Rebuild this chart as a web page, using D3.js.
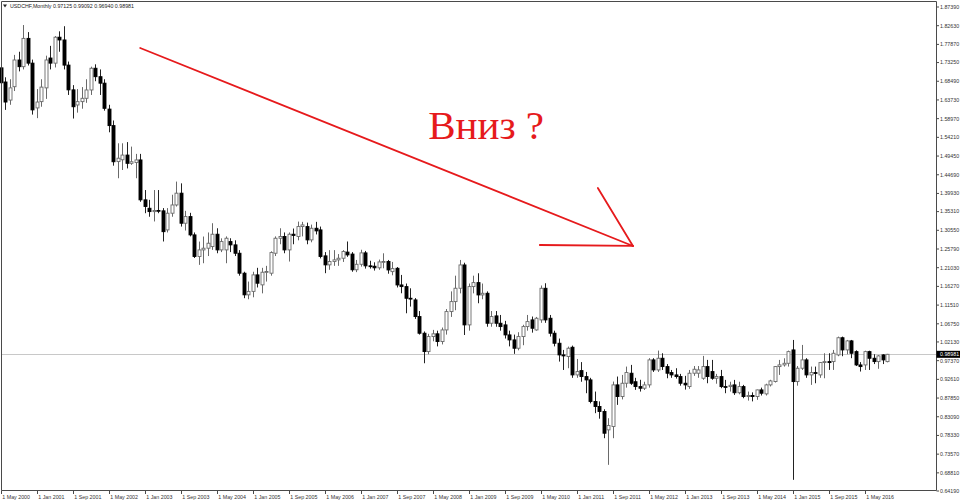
<!DOCTYPE html>
<html><head><meta charset="utf-8">
<script src="https://cdn.jsdelivr.net/npm/d3@7"></script>
<style>html,body{margin:0;padding:0;background:#fff;overflow:hidden}</style>
</head><body><svg id="c" width="960" height="503"></svg>
<script>
// ---- data (monthly USDCHF, May 2000 .. Oct 2016) ----
const symbolTitle = "USDCHF,Monthly";
const lastQuote = ["0.97125", "0.99092", "0.96940", "0.98981"];
const openP = [1.7190,1.6830,1.6370,1.6710,1.7390,1.7220,1.7940,1.7310,1.6170,1.6330,1.6680,1.7440,1.7310,1.7970,1.7900,1.7260,1.6630,1.6245,1.6330,1.6415,
1.6627,1.7180,1.6965,1.6800,1.6140,1.5720,1.4804,1.4850,1.4970,1.4760,1.4780,1.4846,1.3830,1.3616,1.3530,1.3560,1.3550,1.3065,1.3490,1.3700,
1.4000,1.3235,1.3404,1.2938,1.2387,1.2556,1.2599,1.2641,1.2955,1.2556,1.2556,1.2768,1.2684,1.2471,1.1963,1.1412,1.1500,1.1920,1.1666,1.1988,
1.1963,1.2471,1.2853,1.2896,1.2556,1.2955,1.2896,1.3150,1.3150,1.2811,1.3107,1.3065,1.2404,1.2175,1.2260,1.2302,1.2344,1.2500,1.2450,1.2050,
1.2190,1.2480,1.2150,1.2140,1.2100,1.2250,1.2260,1.2003,1.2088,1.1664,1.1622,1.1325,1.1283,1.0859,1.0435,0.9968,1.0350,1.0420,1.0223,1.0519,
1.0986,1.1240,1.1580,1.2173,1.0647,1.1622,1.1724,1.1410,1.1452,1.0689,1.0876,1.0689,1.0647,1.0392,1.0265,1.0053,1.0350,1.0604,1.0774,1.0519,
1.0774,1.1579,1.0816,1.0435,1.0180,0.9883,0.9841,1.0078,0.9374,0.9484,0.9332,0.9247,0.8696,0.8569,0.8442,0.7975,0.8060,0.9120,0.8823,0.9162,
0.9417,0.9200,0.9077,0.9035,0.9120,0.9756,0.9501,0.9798,0.9586,0.9434,0.9374,0.9332,0.9162,0.9077,0.9417,0.9417,0.9289,0.9586,0.9459,0.9289,
0.9332,0.9077,0.9077,0.9120,0.8920,0.9077,0.8823,0.8850,0.8823,0.8992,0.8891,0.9120,0.9205,0.9586,0.9629,0.9670,1.0010,0.9204,0.9544,0.9756,
0.9374,0.9433,0.9374,0.9688,0.9713,0.9713,0.9883,1.0320,1.0010,1.0240,0.9967,0.9628,0.9628,0.9967,0.9798,0.9713,0.9883,0.97125];
const highP = [1.7560,1.6950,1.6900,1.7520,1.7600,1.8280,1.8100,1.7400,1.6650,1.6900,1.7500,1.7750,1.8000,1.8120,1.8250,1.7350,1.6750,1.6650,1.6700,1.6900,
1.7220,1.7280,1.7150,1.6900,1.6250,1.5850,1.5270,1.5270,1.5300,1.5185,1.5000,1.5000,1.4080,1.3830,1.4080,1.4080,1.3620,1.3620,1.3960,1.4295,
1.4250,1.3550,1.3500,1.3000,1.2768,1.2896,1.3000,1.3235,1.3107,1.2850,1.2900,1.2853,1.2800,1.2550,1.2000,1.1750,1.2000,1.2100,1.2100,1.2150,
1.2520,1.2900,1.3107,1.3000,1.3000,1.3100,1.3277,1.3270,1.3250,1.3200,1.3270,1.3150,1.2500,1.2550,1.2550,1.2450,1.2550,1.2770,1.2500,1.2300,
1.2560,1.2530,1.2280,1.2240,1.2310,1.2470,1.2300,1.2250,1.2120,1.1919,1.1700,1.1579,1.1330,1.1000,1.0480,1.0420,1.0520,1.0500,1.0580,1.1050,
1.1500,1.1900,1.2300,1.2230,1.1700,1.1900,1.1961,1.1700,1.1500,1.1000,1.1000,1.0900,1.0750,1.0500,1.0400,1.0460,1.0650,1.0900,1.0860,1.0850,
1.1650,1.1707,1.0900,1.0500,1.0300,1.0010,1.0095,1.0120,0.9780,0.9700,0.9450,0.9300,0.8950,0.8700,0.8500,0.8272,0.9205,0.9332,0.9374,0.9586,
0.9629,0.9300,0.9250,0.9200,0.9800,0.9800,0.9993,0.9925,0.9650,0.9500,0.9544,0.9400,0.9350,0.9500,0.9600,0.9600,0.9858,0.9756,0.9756,0.9400,
0.9501,0.9247,0.9200,0.9247,0.9200,0.9120,0.8950,0.8930,0.9000,0.9050,0.9150,0.9250,0.9600,0.9756,0.9798,0.9993,1.0264,0.9600,1.0137,0.9800,
0.9586,0.9586,0.9700,0.9925,0.9925,1.0010,1.0349,1.0349,1.0264,1.0264,1.0000,0.9700,0.9990,0.9990,0.9900,0.9880,0.9900,0.99092];
const lowP = [1.6780,1.6120,1.6250,1.6600,1.7100,1.7150,1.7250,1.6000,1.5910,1.6200,1.6400,1.7150,1.7200,1.7600,1.7150,1.6500,1.5900,1.6050,1.6150,1.6300,
1.6500,1.6850,1.6500,1.6100,1.5550,1.4700,1.4380,1.4590,1.4630,1.4720,1.4380,1.3780,1.3490,1.3400,1.3280,1.3490,1.2770,1.3000,1.3400,1.3660,
1.3150,1.3050,1.2900,1.2350,1.2175,1.2217,1.2400,1.2556,1.2471,1.2500,1.2217,1.2500,1.2400,1.1900,1.1327,1.1300,1.1350,1.1600,1.1450,1.1750,
1.1900,1.2400,1.2700,1.2471,1.2260,1.2700,1.2800,1.2900,1.2700,1.2750,1.2950,1.2340,1.1963,1.2050,1.2150,1.2150,1.2250,1.2380,1.2000,1.1990,
1.2130,1.2080,1.2080,1.2030,1.2050,1.2088,1.1950,1.1910,1.1600,1.1452,1.0943,1.1113,1.0800,1.0400,0.9671,0.9900,1.0230,1.0100,1.0150,1.0400,
1.0850,1.1020,1.1450,1.0390,1.0500,1.1450,1.1198,1.1300,1.0600,1.0600,1.0600,1.0500,1.0300,1.0100,0.9910,1.0000,1.0130,1.0500,1.0450,1.0500,
1.0700,1.0700,1.0350,1.0100,0.9713,0.9500,0.9544,0.9300,0.9300,0.9200,0.8908,0.8650,0.8400,0.8260,0.7763,0.7085,0.7763,0.8611,0.8750,0.9050,
0.9120,0.8993,0.8950,0.8990,0.9050,0.9450,0.9450,0.9500,0.9289,0.9300,0.9280,0.9100,0.9000,0.9020,0.9350,0.9300,0.9250,0.9162,0.9250,0.9150,
0.9035,0.8908,0.8950,0.8865,0.8880,0.8780,0.8720,0.8700,0.8740,0.8850,0.8850,0.9080,0.9180,0.9374,0.9586,0.9586,0.6703,0.9100,0.9500,0.9300,
0.9120,0.9162,0.9300,0.9289,0.9501,0.9501,0.9850,0.9850,0.9900,0.9800,0.9600,0.9460,0.9500,0.9500,0.9650,0.9530,0.9650,0.96940];
const closeP = [1.6810,1.6320,1.6680,1.7390,1.7220,1.7940,1.7310,1.6120,1.6320,1.6700,1.7390,1.7310,1.7970,1.7900,1.7260,1.6630,1.6200,1.6330,1.6415,1.6627,
1.7180,1.6965,1.6800,1.6160,1.5720,1.4800,1.4890,1.4970,1.4760,1.4800,1.4846,1.3830,1.3660,1.3531,1.3560,1.3550,1.3020,1.3490,1.3700,1.4000,
1.3235,1.3404,1.2938,1.2387,1.2556,1.2599,1.2726,1.2955,1.2556,1.2768,1.2853,1.2684,1.2471,1.1963,1.1412,1.1500,1.1920,1.1708,1.1988,1.2005,
1.2488,1.2853,1.2896,1.2556,1.2955,1.2925,1.3150,1.3192,1.2811,1.3107,1.3040,1.2387,1.2175,1.2260,1.2302,1.2344,1.2514,1.2429,1.2050,1.2190,
1.2480,1.2150,1.2140,1.2100,1.2250,1.2260,1.2046,1.2080,1.1664,1.1622,1.1325,1.1320,1.0859,1.0435,0.9968,1.0350,1.0420,1.0223,1.0519,1.0986,
1.1240,1.1580,1.2173,1.0647,1.1622,1.1724,1.1410,1.1452,1.0689,1.0859,1.0689,1.0604,1.0392,1.0265,1.0053,1.0350,1.0604,1.0731,1.0562,1.0816,
1.1579,1.0774,1.0435,1.0180,0.9883,0.9858,1.0053,0.9374,0.9459,0.9332,0.9247,0.8696,0.8569,0.8442,0.7890,0.8085,0.9120,0.8823,0.9162,0.9434,
0.9162,0.9077,0.9035,0.9120,0.9756,0.9501,0.9798,0.9586,0.9417,0.9374,0.9332,0.9162,0.9120,0.9417,0.9518,0.9501,0.9586,0.9332,0.9289,0.9332,
0.9077,0.9060,0.9110,0.8920,0.9077,0.8823,0.8850,0.8823,0.8992,0.8908,0.9120,0.9221,0.9586,0.9629,0.9670,0.9967,0.9204,0.9544,0.9756,0.9374,
0.9433,0.9416,0.9688,0.9713,0.9688,0.9925,1.0320,1.0010,1.0240,0.9925,0.9628,0.9586,0.9967,0.9798,0.9713,0.9858,0.9756,0.98981];
const priceTicks = ["1.87390","1.82630","1.77870","1.73250","1.68490","1.63730","1.58970","1.54210","1.49450","1.44690","1.39930","1.35310","1.30550",
"1.25790","1.21030","1.16270","1.11510","1.06750","1.02130","0.97370","0.92610","0.87850","0.83090","0.78330","0.73570","0.68810","0.64190"];
const dateTicks = ["1 May 2000","1 Jan 2001","1 Sep 2001","1 May 2002","1 Jan 2003","1 Sep 2003","1 May 2004","1 Jan 2005","1 Sep 2005","1 May 2006",
"1 Jan 2007","1 Sep 2007","1 May 2008","1 Jan 2009","1 Sep 2009","1 May 2010","1 Jan 2011","1 Sep 2011","1 May 2012","1 Jan 2013","1 Sep 2013",
"1 May 2014","1 Jan 2015","1 Sep 2015","1 May 2016"];
const dateTickStep = 8; // bars between date labels
const annotationText = "Вниз ?";
// arrow in (bar index, price) coordinates
const arrowMain = [[31, 1.7696], [140.5, 1.2656]];
const arrowHead1 = [[132.7, 1.4130], [140.5, 1.2656]];
const arrowHead2 = [[119.8, 1.2681], [140.5, 1.2656]];
const annotationAnchor = [95, 1.5380];

// ---- drawing ----
const svg = d3.select("#c");
const n = openP.length;
const bars = d3.range(n).map(i => ({i, o: openP[i], h: highP[i], l: lowP[i], c: closeP[i]}));
const plotL = 1, plotT = 1, plotR = 936, plotB = 490;
const x = d3.scaleLinear().domain([0, n - 1]).range([0.7, 887.2]);
const y = d3.scaleLinear().domain([0.64190, 1.87390]).range([491, 7]);
const axisFont = "'Liberation Sans', Arial, sans-serif";
const fs = 5.3;

// current price line
const lastClose = +lastQuote[3];
svg.append("line").attr("x1", plotL).attr("x2", plotR)
  .attr("y1", Math.round(y(lastClose)) + 0.5).attr("y2", Math.round(y(lastClose)) + 0.5)
  .attr("stroke", "#c8c8c8").attr("stroke-width", 1);

// candles
const g = svg.append("g");
g.selectAll("line.wick").data(bars).join("line").attr("class", "wick")
  .attr("x1", d => Math.round(x(d.i)) + 0.5).attr("x2", d => Math.round(x(d.i)) + 0.5)
  .attr("y1", d => y(d.h)).attr("y2", d => y(d.l))
  .attr("stroke", d => d.c >= d.o ? "#6a6a6a" : "#222").attr("stroke-width", 1);
g.selectAll("rect.body").data(bars).join("rect").attr("class", "body")
  .attr("x", d => Math.round(x(d.i)) - 1)
  .attr("width", 3)
  .attr("y", d => y(Math.max(d.o, d.c)))
  .attr("height", d => Math.max(0.8, Math.abs(y(d.o) - y(d.c))))
  .attr("fill", d => d.c >= d.o ? "#fff" : "#000")
  .attr("stroke", d => d.c >= d.o ? "#6a6a6a" : "#000").attr("stroke-width", 0.9);

// frame
svg.append("path").attr("d", `M${plotL + 0.5},${plotT + 0.5}H${plotR + 0.5}V${plotB + 0.5}H${plotL + 0.5}Z`)
  .attr("fill", "none").attr("stroke", "#4a4a4a").attr("stroke-width", 1);

// price axis
const pa = svg.append("g");
priceTicks.forEach(t => {
  const yy = y(+t);
  pa.append("line").attr("x1", plotR + 0.5).attr("x2", plotR + 3).attr("y1", yy).attr("y2", yy)
    .attr("stroke", "#4a4a4a");
  pa.append("text").attr("x", plotR + 4).attr("y", yy).attr("dy", "0.35em")
    .attr("font-family", axisFont).attr("font-size", fs).attr("fill", "#333").text(t);
});
// last price label
pa.append("rect").attr("x", plotR + 0.5).attr("y", y(lastClose) - 3.5).attr("width", 23.5).attr("height", 7).attr("fill", "#000");
pa.append("text").attr("x", plotR + 4).attr("y", y(lastClose)).attr("dy", "0.35em")
  .attr("font-family", axisFont).attr("font-size", fs).attr("fill", "#fff").text(lastQuote[3]);

// time axis
const ta = svg.append("g");
dateTicks.forEach((t, k) => {
  const xx = Math.round(x(k * dateTickStep)) + 0.5;
  ta.append("line").attr("x1", xx).attr("x2", xx).attr("y1", plotB + 0.5).attr("y2", plotB + 4)
    .attr("stroke", "#4a4a4a");
  ta.append("text").attr("x", xx + 0.8).attr("y", plotB + 9.3)
    .attr("font-family", axisFont).attr("font-size", fs).attr("fill", "#333").text(t);
});

// title
svg.append("path").attr("d", "M3,4.5L7,4.5L5,7.5Z").attr("fill", "#222");
svg.append("text").attr("x", 10).attr("y", 8)
  .attr("font-family", axisFont).attr("font-size", fs).attr("fill", "#222")
  .text(symbolTitle + " " + lastQuote.join(" "));

// annotation
const red = "#e61a1c";
[arrowMain, arrowHead1, arrowHead2].forEach(seg => {
  svg.append("line")
    .attr("x1", x(seg[0][0])).attr("y1", y(seg[0][1]))
    .attr("x2", x(seg[1][0])).attr("y2", y(seg[1][1]))
    .attr("stroke", red).attr("stroke-width", 1.8).attr("stroke-linecap", "round");
});
svg.append("text").attr("x", x(annotationAnchor[0])).attr("y", y(annotationAnchor[1]))
  .attr("font-family", "'Liberation Serif', 'Times New Roman', serif").attr("font-size", 41)
  .attr("fill", red).text(annotationText);
</script></body></html>
